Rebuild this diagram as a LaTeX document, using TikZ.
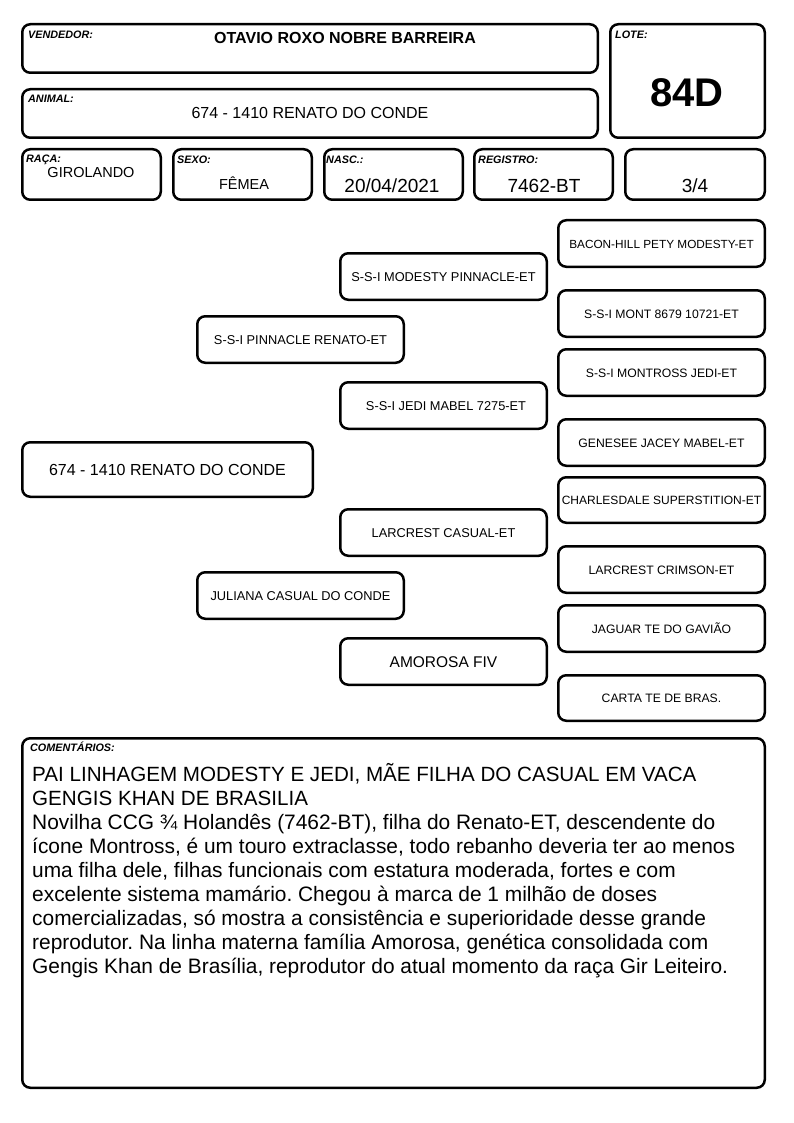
\documentclass[tikz,border=0pt]{standalone}
\usepackage{fontspec}
\setmainfont{Liberation Sans}
\frenchspacing
\begin{document}
\begin{tikzpicture}[x=1pt,y=-1pt,
  card/.style={draw=black, line width=2.5pt, rounded corners=8pt, fill=white, inner sep=0pt},
  lbl/.style={anchor=base west, inner sep=0pt, font=\fontsize{10.8}{12}\selectfont\bfseries\itshape},
  val/.style={anchor=base, inner sep=0pt},
  pedA/.style={card, minimum width=206.5pt, minimum height=46.5pt, text height=9pt, text depth=0pt, font=\fontsize{12.2}{14}\selectfont},
  pedB/.style={card, minimum width=206.5pt, minimum height=46.5pt, text height=9.3pt, text depth=0pt, font=\fontsize{12.8}{15}\selectfont},
  cline/.style={anchor=base west, inner sep=0pt, font=\fontsize{20.9}{24}\selectfont},
  chead/.style={cline, font=\fontsize{20.6}{24}\selectfont}
]
\useasboundingbox[fill=white] (0,0) rectangle (794,1123);

% header boxes
\node[card, minimum width=575.5pt, minimum height=48.5pt] (vend) at (310,48.5) {};
\node[card, minimum width=575.5pt, minimum height=48.5pt] (anim) at (310,113.5) {};
\node[card, minimum width=154.5pt, minimum height=113.5pt] (lote) at (687.5,81) {};
\node[card, minimum width=138.5pt, minimum height=50.5pt] (raca) at (91.5,174.5) {};
\node[card, minimum width=138.5pt, minimum height=50.5pt] (sexo) at (242.5,174.5) {};
\node[card, minimum width=138.5pt, minimum height=50.5pt] (nasc) at (393.5,174.5) {};
\node[card, minimum width=138.5pt, minimum height=50.5pt] (reg) at (543.5,174.5) {};
\node[card, minimum width=139.5pt, minimum height=50.5pt] (grau) at (695,174.5) {};

\node[lbl] (lvend) at (28,38.8) {VENDEDOR:};
\node[lbl] (lanim) at (28,102.8) {ANIMAL:};
\node[lbl] (llote) at (615,38.8) {LOTE:};
\node[lbl] (lraca) at (26,162.8) {RAÇA:};
\node[lbl] (lsexo) at (177,163.8) {SEXO:};
\node[lbl] (lnasc) at (326,163.8) {NASC.:};
\node[lbl] (lreg) at (478,163.8) {REGISTRO:};

\node[val, font=\fontsize{16}{18}\selectfont\bfseries] (tvend) at (345,43.7) {OTAVIO ROXO NOBRE BARREIRA};
\node[val, font=\fontsize{16}{18}\selectfont] (tanim) at (310,118.7) {674 - 1410 RENATO DO CONDE};
\node[val, font=\fontsize{40}{44}\selectfont\bfseries] (tlote) at (687,106.3) {84D};
\node[val, font=\fontsize{14.5}{16}\selectfont] (traca) at (91,177.2) {GIROLANDO};
\node[val, font=\fontsize{14.5}{16}\selectfont] (tsexo) at (244,189.2) {FÊMEA};
\node[val, font=\fontsize{19}{21}\selectfont] (tnasc) at (392,192.8) {20/04/2021};
\node[val, font=\fontsize{19}{21}\selectfont] (treg) at (544,192.8) {7462-BT};
\node[val, font=\fontsize{19}{21}\selectfont] (tgrau) at (695,192.8) {3/4};

% pedigree
\node[card, minimum width=290.5pt, minimum height=54.5pt, text height=11.5pt, text depth=0pt, font=\fontsize{16}{18}\selectfont] (p1) at (167.5,469.5) {674 - 1410 RENATO DO CONDE};

\node[pedB] (p2a) at (300.5,339.5) {S-S-I PINNACLE RENATO-ET};
\node[pedB] (p2b) at (300.5,595.5) {JULIANA CASUAL DO CONDE};

\node[pedB] (p3a) at (443.5,276.5) {S-S-I MODESTY PINNACLE-ET};
\node[pedB] (p3b) at (443.5,405.5) {\hspace*{5pt}S-S-I JEDI MABEL 7275-ET};
\node[pedB] (p3c) at (443.5,532.5) {LARCREST CASUAL-ET};
\node[pedB, text height=11.1pt, font=\fontsize{15.5}{17}\selectfont] (p3d) at (443.5,661.5) {AMOROSA FIV};

\node[pedA, font=\fontsize{11.8}{14}\selectfont] (p4a) at (661.5,243.5) {BACON-HILL PETY MODESTY-ET};
\node[pedA] (p4b) at (661.5,313.5) {S-S-I MONT 8679 10721-ET};
\node[pedA] (p4c) at (661.5,372.5) {S-S-I MONTROSS JEDI-ET};
\node[pedA] (p4d) at (661.5,442.5) {GENESEE JACEY MABEL-ET};
\node[pedA, minimum height=45.5pt, font=\fontsize{12}{14}\selectfont] (p4e) at (661.5,500) {CHARLESDALE SUPERSTITION-ET};
\node[pedA] (p4f) at (661.5,569.5) {LARCREST CRIMSON-ET};
\node[pedA] (p4g) at (661.5,628.5) {JAGUAR TE DO GAVIÃO};
\node[pedA, minimum height=45.5pt] (p4h) at (661.5,698) {CARTA TE DE BRAS.};

% comments
\node[card, minimum width=742.5pt, minimum height=349.5pt] (coment) at (393.5,913) {};
\node[lbl] (lcoment) at (30,751.8) {COMENTÁRIOS:};
\node[chead] (c1) at (32,781) {PAI LINHAGEM MODESTY E JEDI, MÃE FILHA DO CASUAL EM VACA};
\node[chead] (c2) at (32,805) {GENGIS KHAN DE BRASILIA};
\node[cline] (c3) at (32,829) {Novilha CCG ¾ Holandês (7462-BT), filha do Renato-ET, descendente do};
\node[cline] (c4) at (32,853) {ícone Montross, é um touro extraclasse, todo rebanho deveria ter ao menos};
\node[cline] (c5) at (32,877) {uma filha dele, filhas funcionais com estatura moderada, fortes e com};
\node[cline] (c6) at (32,901) {excelente sistema mamário. Chegou à marca de 1 milhão de doses};
\node[cline] (c7) at (32,925) {comercializadas, só mostra a consistência e superioridade desse grande};
\node[cline] (c8) at (32,949) {reprodutor. Na linha materna família Amorosa, genética consolidada com};
\node[cline] (c9) at (32,973) {Gengis Khan de Brasília, reprodutor do atual momento da raça Gir Leiteiro.};
\end{tikzpicture}
\end{document}
